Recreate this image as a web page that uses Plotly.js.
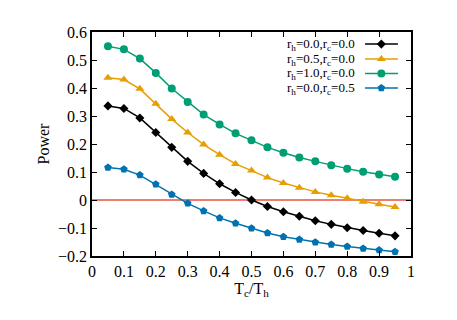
<!DOCTYPE html>
<html><head><meta charset="utf-8">
<script src="https://cdn.plot.ly/plotly-3.0.1.min.js"></script>
<style>html,body{margin:0;padding:0;background:#fff}#c{width:457px;height:320px}</style>
</head><body><div id="c"></div>
<script>
const ratio = [0.05,0.10,0.15,0.20,0.25,0.30,0.35,0.40,0.45,0.50,0.55,0.60,0.65,0.70,0.75,0.80,0.85,0.90,0.95];
const powerA = [0.336,0.327,0.293,0.241,0.188,0.138,0.095,0.058,0.027,0.000,-0.023,-0.042,-0.058,-0.074,-0.087,-0.099,-0.109,-0.119,-0.128];
const powerB = [0.437,0.430,0.397,0.344,0.289,0.241,0.198,0.162,0.129,0.105,0.080,0.061,0.044,0.029,0.017,0.006,-0.006,-0.015,-0.025];
const powerC = [0.549,0.538,0.505,0.454,0.398,0.350,0.305,0.270,0.238,0.213,0.188,0.169,0.152,0.138,0.124,0.112,0.101,0.091,0.083];
const powerD = [0.116,0.110,0.089,0.056,0.020,-0.012,-0.039,-0.064,-0.083,-0.101,-0.118,-0.131,-0.141,-0.151,-0.159,-0.166,-0.173,-0.179,-0.185];
const labels = ["r<sub>h</sub>=0.0,r<sub>c</sub>=0.0","r<sub>h</sub>=0.5,r<sub>c</sub>=0.0","r<sub>h</sub>=1.0,r<sub>c</sub>=0.0","r<sub>h</sub>=0.0,r<sub>c</sub>=0.5"];
const series = [powerA, powerB, powerC, powerD];
const colors = ["#000000","#E69F00","#009E73","#0072B2"];
const symbols = ["diamond","triangle-up","circle","pentagon"];
const sizes = [7,8,8,8];

const font = "'Liberation Serif', 'Times New Roman', serif";
const traces = [];
series.forEach((s,i)=>{
  traces.push({x:ratio,y:s,type:'scatter',mode:'lines+markers',
    line:{color:colors[i],width:1.5},
    marker:{symbol:symbols[i],size:sizes[i],color:colors[i]},
    showlegend:false,hoverinfo:'skip'});
});
const keyRows = [0.946,0.879,0.815,0.750];
const annotations = [];
series.forEach((s,i)=>{
  traces.push({x:[0.856,0.959],y:[keyRows[i],keyRows[i]],xaxis:'x2',yaxis:'y2',type:'scatter',mode:'lines',
    line:{color:colors[i],width:1.5},showlegend:false,hoverinfo:'skip'});
  traces.push({x:[0.907],y:[keyRows[i]],xaxis:'x2',yaxis:'y2',type:'scatter',mode:'markers',
    marker:{symbol:symbols[i],size:sizes[i],color:colors[i]},showlegend:false,hoverinfo:'skip'});
  annotations.push({xref:'paper',yref:'paper',x:0.83,y:keyRows[i],xanchor:'right',yanchor:'middle',
    text:labels[i],showarrow:false,font:{family:font,size:13,color:'#000'}});
});

const layout = {
  width:457,height:320,
  margin:{l:92,r:46,t:32,b:64},
  paper_bgcolor:'#fff',plot_bgcolor:'#fff',
  font:{family:font,size:16,color:'#000'},
  xaxis:{range:[0,1],dtick:0.1,tick0:0,showgrid:false,zeroline:false,
    showline:true,linecolor:'#000',linewidth:1.8,mirror:'allticks',
    ticks:'inside',ticklen:5,tickwidth:1,tickcolor:'#000',
    title:{text:'T<sub>c</sub>/T<sub>h</sub>',font:{family:font,size:16},standoff:0}},
  yaxis:{range:[-0.2,0.6],dtick:0.1,tick0:0,showgrid:false,zeroline:false,
    showline:true,linecolor:'#000',linewidth:1.8,mirror:'allticks',
    ticks:'inside',ticklen:5,tickwidth:1,tickcolor:'#000',
    title:{text:'Power',font:{family:font,size:16},standoff:4}},
  xaxis2:{overlaying:'x',range:[0,1],visible:false,fixedrange:true},
  yaxis2:{overlaying:'y',range:[0,1],visible:false,fixedrange:true},
  shapes:[{type:'line',xref:'x',yref:'y',x0:0,x1:1,y0:0,y1:0,line:{color:'#E5533F',width:1.5},layer:'below'}],
  annotations:annotations
};
Plotly.newPlot('c',traces,layout,{staticPlot:true,displayModeBar:false});
</script></body></html>
